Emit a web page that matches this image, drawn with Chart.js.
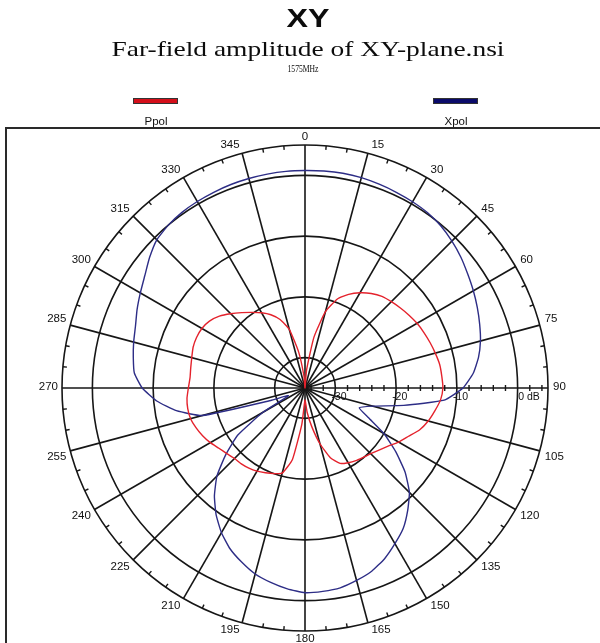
<!DOCTYPE html>
<html>
<head>
<meta charset="utf-8">
<script src="https://cdn.jsdelivr.net/npm/chart.js@4.4.1/dist/chart.umd.min.js"></script>
<style>
  html, body { margin: 0; padding: 0; background: #fff; }
  canvas { display: block; }
</style>
</head>
<body>
<canvas id="polar" width="600" height="643"></canvas>
<script>
// azimuth angles (deg), one every 5
const angles = [0, 5, 10, 15, 20, 25, 30, 35, 40, 45, 50, 55, 60, 65, 70, 75, 80, 85,
  90, 95, 100, 105, 110, 115, 120, 125, 130, 135, 140, 145, 150, 155, 160, 165, 170, 175,
  180, 185, 190, 195, 200, 205, 210, 215, 220, 225, 230, 235, 240, 245, 250, 255, 260, 265,
  270, 275, 280, 285, 290, 295, 300, 305, 310, 315, 320, 325, 330, 335, 340, 345, 350, 355]

// amplitude in dB
const ppol = [-35, -32, -26.5, -22, -19.4, -18, -16.9, -16, -15.3, -14.9, -14.5, -14.1,
  -13.7, -13.4, -13.1, -12.8, -12.5, -12.4, -12.3, -12.6, -13.3, -14, -14.9, -16.2,
  -17.2, -18.3, -19.1, -19.7, -20.1, -20.4, -20.8, -21.3, -22.8, -25.5, -28.5, -31,
  -33, -29, -23, -20.5, -20, -19.6, -19.2, -18.9, -18.7, -18.6, -18.2, -17.7,
  -17, -16.4, -15.9, -15.5, -15.4, -15.5, -15.8, -16, -15.9, -15.7, -15.4, -15.3,
  -15.4, -15.8, -16.6, -17.7, -18.8, -19.8, -20.7, -21.7, -23, -25, -29, -33]

const xpol = [0.8, 0.85, 0.9, 0.85, 0.7, 0.55, 0.4, 0.2, -0.2, -0.8, -1.5, -2.3,
  -3, -3.7, -4.4, -5.1, -6, -7.2, -9, -12, -18.5, -23.5, -25.5, -23.5,
  -20, -16.8, -13.5, -10.7, -8.7, -6.8, -5.4, -4, -2.9, -2.2, -1.6, -1.4,
  -1.3, -1.8, -2.5, -3.3, -4.5, -5.8, -7.5, -9.5, -11.8, -14.5, -18, -21.5,
  -27, -32, -29, -17.5, -13.5, -10.5, -8.2, -6.8, -6.3, -5.8, -5.3, -4.5,
  -3.7, -2.8, -1.6, -0.5, 0, 0.3, 0.45, 0.55, 0.65, 0.7, 0.75, 0.8]

const ringValues = [-35, -30, -20, -10, 0, 5]
const dbLabels = ["-30", "-20", "-10", "0 dB"]
const dbLabelValues = [-30, -20, -10, 0]
const minorTicks = [-34, -32, -28, -26, -24, -22, -18, -16, -14, -12, -8, -6, -4, -2, 2, 4]

const gridColor = "#161616"

function drawText(ctx, str, x, y, font, align, baseline, sx) {
  ctx.save()
  ctx.font = font
  ctx.textAlign = align
  ctx.textBaseline = baseline
  ctx.translate(x, y)
  ctx.scale(sx, 1)
  ctx.fillText(str, 0, 0)
  ctx.restore()
}

function drawFitted(ctx, str, cx, y, font, width) {
  ctx.save()
  ctx.font = font
  const sx = width / ctx.measureText(str).width
  ctx.restore()
  drawText(ctx, str, cx, y, font, "center", "alphabetic", sx)
}

const decorations = {
  id: "decorations",
  afterDraw(chart) {
    const ctx = chart.ctx
    const scale = chart.scales.r
    const cx = scale.xCenter
    const cy = scale.yCenter
    const small = "10px 'Liberation Sans', Arial, sans-serif"

    ctx.save()
    ctx.fillStyle = "#0c0c0c"

    // headings
    drawFitted(ctx, "XY", 308, 27, "bold 25px 'Liberation Sans', Arial, sans-serif", 43)
    drawFitted(ctx, "Far-field amplitude of XY-plane.nsi", 308, 56, "22px 'Liberation Serif', 'Times New Roman', serif", 393)
    drawFitted(ctx, "1575MHz", 303, 72, "10px 'Liberation Serif', 'Times New Roman', serif", 31)

    // legend: sample bar above the name
    const legendX = [155, 455]
    chart.data.datasets.forEach((ds, i) => {
      ctx.fillStyle = ds.legendColor
      ctx.fillRect(legendX[i] - 22, 98, 45, 6)
      ctx.strokeStyle = "#333"
      ctx.lineWidth = 1
      ctx.strokeRect(legendX[i] - 22 + 0.5, 98.5, 44, 5)
      ctx.fillStyle = "#111"
      drawText(ctx, ds.label, legendX[i] + 1, 125, small, "center", "alphabetic", 1.15)
    })

    // frame
    ctx.strokeStyle = "#2a2a2a"
    ctx.lineWidth = 2
    ctx.beginPath()
    ctx.moveTo(6, 643)
    ctx.lineTo(6, 128)
    ctx.lineTo(600, 128)
    ctx.stroke()

    // angle ticks on the outer ring
    ctx.strokeStyle = gridColor
    ctx.lineWidth = 1.4
    const outer = scale.drawingArea
    angles.forEach((a, i) => {
      if (i % 3 === 0) return
      const p1 = scale.getPointPosition(i, outer - 4)
      const p2 = scale.getPointPosition(i, outer)
      ctx.beginPath()
      ctx.moveTo(p1.x, p1.y)
      ctx.lineTo(p2.x, p2.y)
      ctx.stroke()
    })

    // dB ticks along the 90 deg axis
    minorTicks.forEach((v) => {
      const x = cx + scale.getDistanceFromCenterForValue(v)
      ctx.beginPath()
      ctx.moveTo(x, cy - 3)
      ctx.lineTo(x, cy + 3)
      ctx.stroke()
    })

    // angle labels
    ctx.fillStyle = "#111"
    angles.forEach((a, i) => {
      if (i % 3 !== 0) return
      const p = scale.getPointPosition(i, outer + 2)
      let align = "center"
      let x = p.x
      if (a > 0 && a < 180) { align = "left"; x = p.x + 3 }
      if (a > 180) { align = "right"; x = p.x - 2 }
      let baseline = "top"
      let y = p.y + 1
      if (a === 90 || a === 270) { baseline = "middle"; y = p.y - 1 }
      else if (a < 90 || a > 270) { baseline = "alphabetic"; y = p.y - 3 }
      drawText(ctx, String(a), x, y, small, align, baseline, 1.15)
    })

    // dB labels
    dbLabels.forEach((t, i) => {
      const x = cx + scale.getDistanceFromCenterForValue(dbLabelValues[i])
      const left = t.startsWith("-") ? x - 4 : x + 0.5
      drawText(ctx, t, left, cy + 4, small, "left", "top", 1.05)
    })

    ctx.restore()
  }
}

const ctx = document.getElementById("polar").getContext("2d")
new Chart(ctx, {
  type: "radar",
  data: {
    labels: angles,
    datasets: [
      {
        label: "Ppol",
        data: ppol,
        borderColor: "#e4222c",
        legendColor: "#d40f1a",
        borderWidth: 1.4,
        pointRadius: 0,
        fill: false,
        tension: 0.15
      },
      {
        label: "Xpol",
        data: xpol,
        borderColor: "#2d2d86",
        legendColor: "#0a0a6a",
        borderWidth: 1.4,
        pointRadius: 0,
        fill: false,
        tension: 0.15
      }
    ]
  },
  options: {
    responsive: false,
    animation: false,
    devicePixelRatio: 1,
    layout: { padding: { left: 62, right: 52, top: 145, bottom: 12 } },
    plugins: {
      legend: { display: false },
      title: { display: false },
      tooltip: { enabled: false }
    },
    scales: {
      r: {
        min: -35,
        max: 5,
        startAngle: 0,
        afterBuildTicks: (scale) => {
          scale.ticks = ringValues.map((v) => ({ value: v }))
        },
        ticks: { display: false },
        grid: { circular: true, color: gridColor, lineWidth: 1.6 },
        angleLines: {
          color: gridColor,
          lineWidth: (c) => (c.index % 3 === 0 ? 1.6 : 0)
        },
        pointLabels: { display: false }
      }
    }
  },
  plugins: [decorations]
})
</script>
</body>
</html>
